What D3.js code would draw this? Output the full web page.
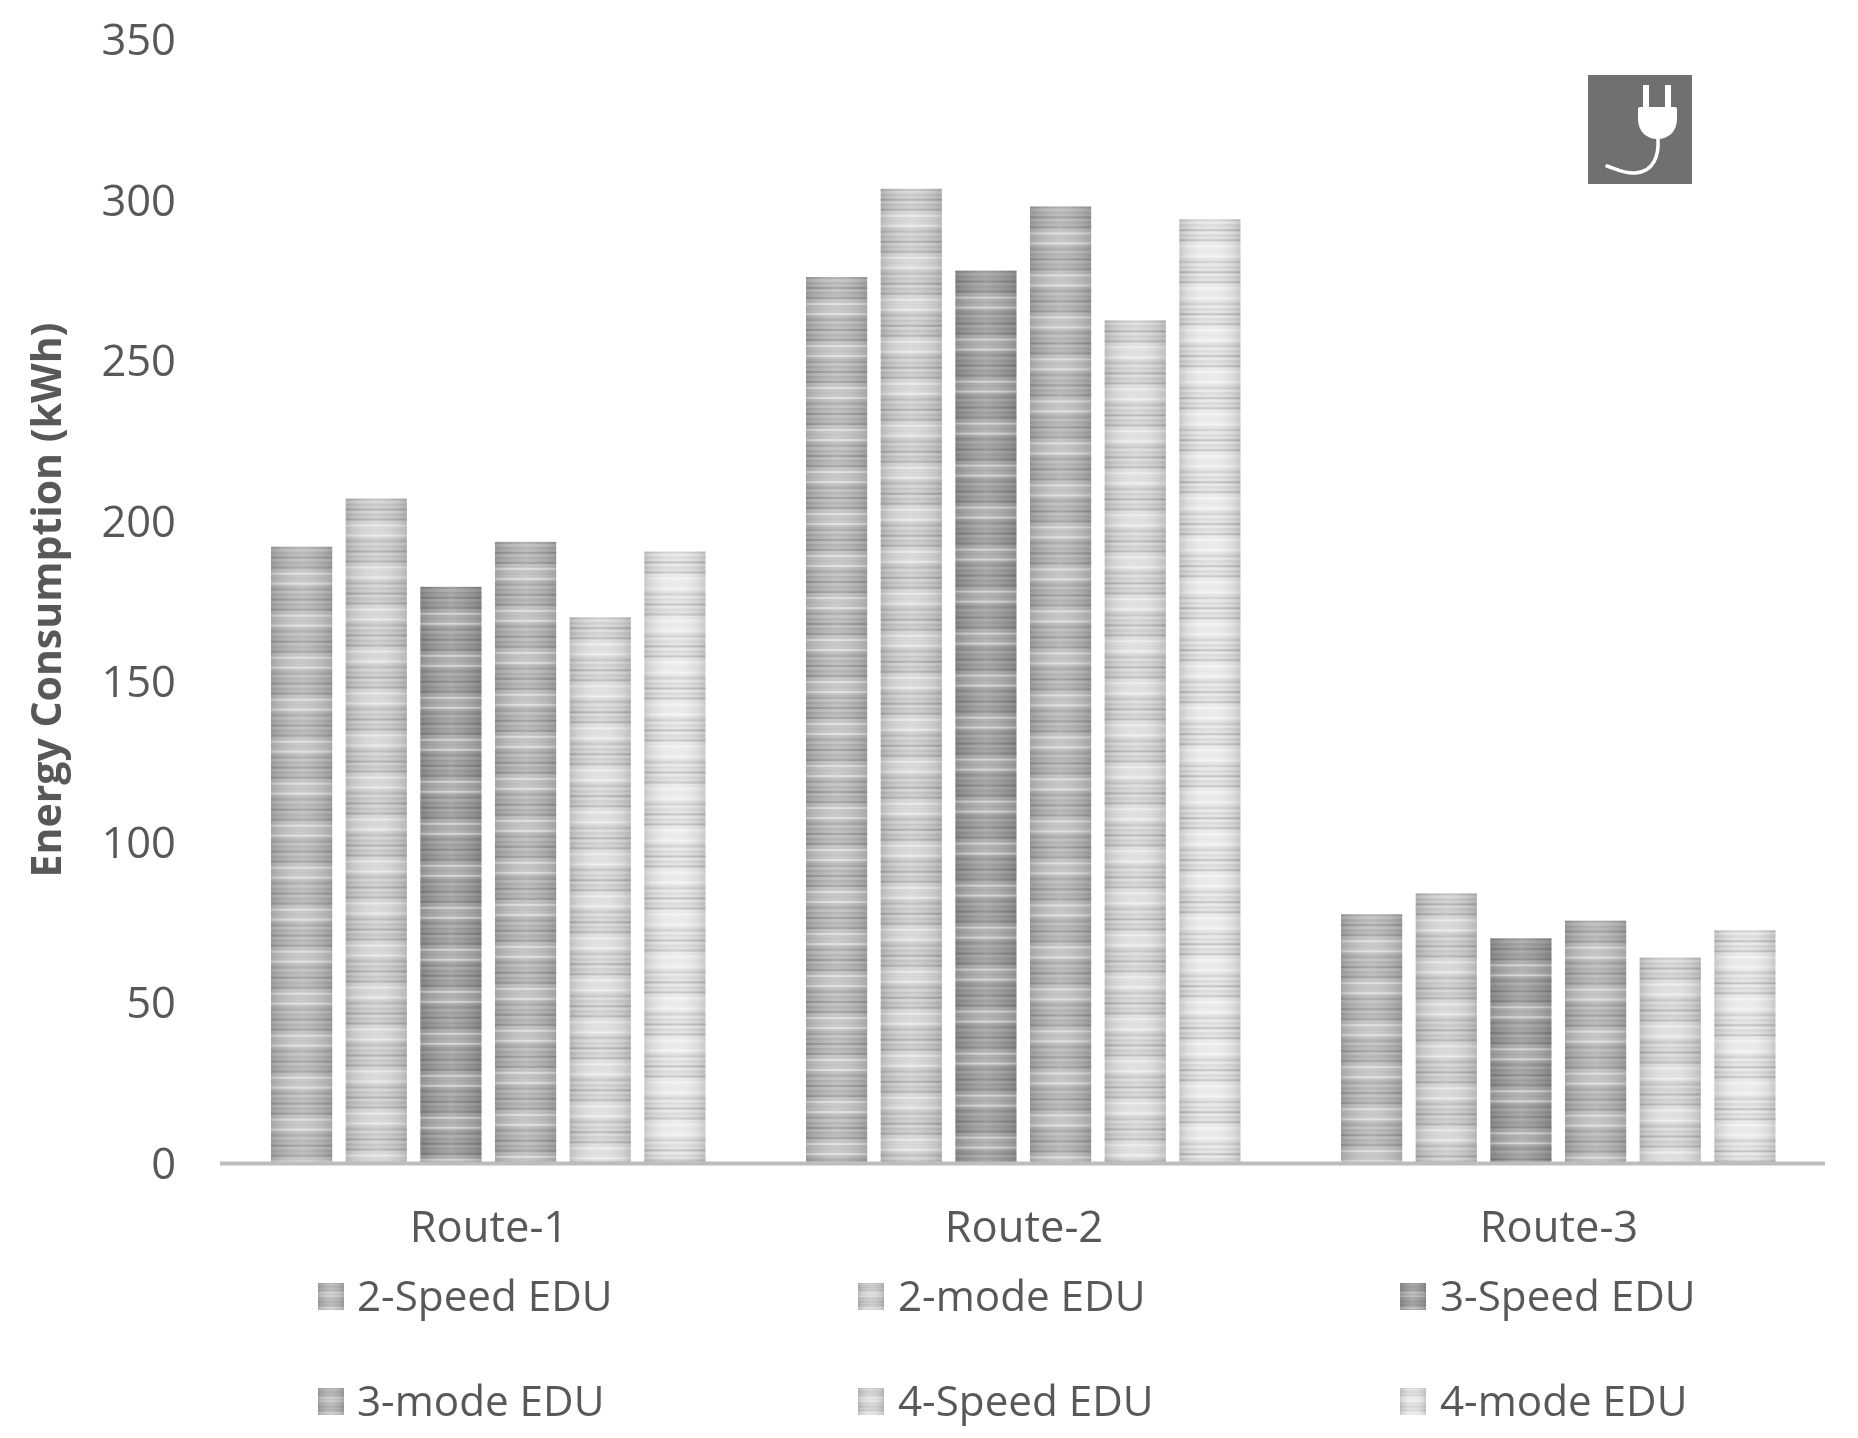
<!DOCTYPE html>
<html><head><meta charset="utf-8">
<script src="https://cdn.jsdelivr.net/npm/d3@7"></script>
<style>html,body{margin:0;padding:0;background:#fff}svg{display:block}text{font-family:"Open Sans",sans-serif;fill:#595959}</style>
</head><body><svg id="c" width="1858" height="1438"></svg>
<script>
const routes = ["Route-1", "Route-2", "Route-3"];
const seriesNames = ["2-Speed EDU", "2-mode EDU", "3-Speed EDU", "3-mode EDU", "4-Speed EDU", "4-mode EDU"];
const speed2 = [192, 276, 77.5];
const mode2 = [207, 303.5, 84];
const speed3 = [179.5, 278, 70];
const mode3 = [193.5, 298, 75.5];
const speed4 = [170, 262.5, 64];
const mode4 = [190.5, 294, 72.5];
const yTicks = [0, 50, 100, 150, 200, 250, 300, 350];
const allSeries = [speed2, mode2, speed3, mode3, speed4, mode4];

const baseGreys = ["#bababa", "#cfcfcf", "#9e9e9e", "#b6b6b6", "#d9d9d9", "#e6e6e6"];
// stripe bands inside one pattern period: [start, height, colour, opacity]
const period = 42;
const bands = [
  [0, 2, "#000", .10], [2, 3, "#fff", .06], [5, 2, "#000", .07], [7, 3, "#000", .02],
  [10, 2, "#000", .17], [12, 3, "#fff", .03], [15, 2, "#000", .08], [17, 3, "#000", .03],
  [20, 2, "#000", .15], [22, 4, "#fff", .08], [26, 2, "#fff", .5], [28, 3, "#fff", .10],
  [31, 2, "#fff", .05], [33, 3, "#fff", .12], [36, 2, "#fff", .52], [38, 2, "#fff", .08], [40, 2, "#000", .04]
];

const svg = d3.select("#c");
const defs = svg.append("defs");
const soft = defs.append("filter").attr("id", "soft").attr("x", "-5%").attr("y", "-5%").attr("width", "110%").attr("height", "110%");
soft.append("feGaussianBlur").attr("stdDeviation", 0.7);
const softT = defs.append("filter").attr("id", "softT").attr("x", "-5%").attr("y", "-5%").attr("width", "110%").attr("height", "110%");
softT.append("feGaussianBlur").attr("stdDeviation", 0.5);

const edge = defs.append("linearGradient").attr("id", "edge");
[[0, "#000", .14], [.14, "#000", .05], [.32, "#fff", .05], [.5, "#fff", .14], [.68, "#fff", .05], [.86, "#000", .05], [1, "#000", .14]]
  .forEach(s => edge.append("stop").attr("offset", s[0]).attr("stop-color", s[1]).attr("stop-opacity", s[2]));

const x0 = d3.scaleBand().domain(routes).range([220, 1825]);
const x1 = d3.scaleBand().domain(seriesNames).range([51, 485.5]).paddingInner(0.18).paddingOuter(0);
const y = d3.scaleLinear().domain([0, 350]).range([1163, 39.5]);

function makePattern(id, colour, px, py, w, scale) {
  const p = defs.append("pattern").attr("id", id).attr("patternUnits", "userSpaceOnUse")
    .attr("x", 0).attr("y", 0).attr("width", w).attr("height", period)
    .attr("patternTransform", `translate(${px},${py}) scale(1,${scale})`);
  p.append("rect").attr("width", w).attr("height", period).attr("fill", colour);
  bands.forEach(b => p.append("rect").attr("y", b[0]).attr("width", w).attr("height", b[1]).attr("fill", b[2]).attr("fill-opacity", b[3]));
  p.append("rect").attr("width", w).attr("height", period).attr("fill", "url(#edge)");
}

const barsG = svg.append("g").attr("filter", "url(#soft)");
routes.forEach((r, ri) => {
  seriesNames.forEach((s, si) => {
    const v = allSeries[si][ri];
    const bx = x0(r) + x1(s);
    const id = `b${ri}_${si}`;
    makePattern(id, baseGreys[si], bx, y(v), x1.bandwidth(), 1);
    barsG.append("rect").attr("x", bx).attr("y", y(v)).attr("width", x1.bandwidth())
      .attr("height", y(0) - y(v)).attr("fill", `url(#${id})`);
  });
});

svg.append("rect").attr("x", 220).attr("width", 1605).attr("y", y(0) - 1.5).attr("height", 4)
  .attr("fill", "#bdbdbd").attr("filter", "url(#soft)");

const textG = svg.append("g").attr("filter", "url(#softT)");
const yAxis = d3.axisLeft(y).tickValues(yTicks).tickSize(0).tickPadding(0);
const ya = textG.append("g").attr("transform", "translate(176,1.4)").call(yAxis);
ya.select(".domain").remove();
ya.selectAll("text").attr("font-size", 43.5).attr("font-family", '"Open Sans",sans-serif').attr("fill", "#595959");

const xAxis = d3.axisBottom(x0).tickSize(0).tickPadding(0);
const xa = textG.append("g").attr("transform", "translate(1.5,1211)").call(xAxis);
xa.select(".domain").remove();
xa.selectAll("text").attr("font-size", 43.5).attr("font-family", '"Open Sans",sans-serif').attr("fill", "#595959");

textG.append("text").attr("transform", "translate(45,600) rotate(-90)").attr("text-anchor", "middle")
  .attr("dominant-baseline", "central").attr("font-size", 41).attr("font-weight", 700).text("Energy Consumption (kWh)");

const legX = d3.scaleOrdinal().domain([0, 1, 2]).range([318, 858, 1400]);
const legY = d3.scaleOrdinal().domain([0, 1]).range([1283, 1388]);
const legG = svg.append("g");
seriesNames.forEach((s, i) => {
  const c = i % 3, rw = Math.floor(i / 3);
  const id = `l${i}`;
  makePattern(id, baseGreys[i], legX(c), legY(rw), 26, 0.36);
  legG.append("rect").attr("x", legX(c)).attr("y", legY(rw)).attr("width", 26).attr("height", 27)
    .attr("fill", `url(#${id})`).attr("filter", "url(#soft)");
  textG.append("text").attr("x", legX(c) + (c ? 40 : 39)).attr("y", legY(rw) + 28).attr("font-size", 42.2).text(s);
});

const icon = svg.append("g").attr("transform", "translate(1588,75)").attr("filter", "url(#soft)");
icon.append("rect").attr("width", 104).attr("height", 109).attr("fill", "#707070");
icon.append("rect").attr("x", 55).attr("y", 10).attr("width", 6).attr("height", 24).attr("fill", "#fff");
icon.append("rect").attr("x", 77).attr("y", 10).attr("width", 6).attr("height", 24).attr("fill", "#fff");
icon.append("path").attr("d", "M50 34Q50 32 52 32H87Q89 32 89 34V44C89 57 80 64 69.5 64C59 64 50 57 50 44Z").attr("fill", "#fff");
icon.append("path").attr("d", "M70 64C71 80 66 97 47 98C37 99 28 94 19 91").attr("fill", "none").attr("stroke", "#fff").attr("stroke-width", 3.5).attr("stroke-linecap", "round");
</script></body></html>
